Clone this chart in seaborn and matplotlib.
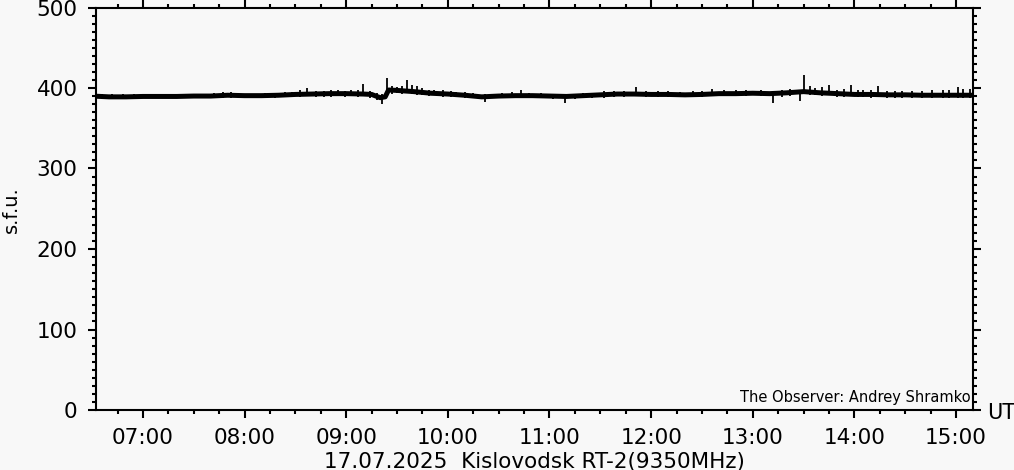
import matplotlib
matplotlib.use("Agg")
import matplotlib.pyplot as plt
import seaborn as sns
import pandas as pd
from matplotlib.ticker import MultipleLocator, FuncFormatter

# flux level (UT, s.f.u.)
times = ["06:30", "06:40", "06:50", "07:00", "07:10", "07:20", "07:30", "07:40",
         "07:50", "08:00", "08:10", "08:20", "08:30", "08:40", "08:50", "09:00",
         "09:10", "09:15", "09:20", "09:23", "09:25", "09:30", "09:40", "09:50",
         "10:00", "10:10", "10:20", "10:30", "10:40", "10:50", "11:00", "11:10",
         "11:20", "11:30", "11:40", "11:50", "12:00", "12:10", "12:20", "12:30",
         "12:40", "12:50", "13:00", "13:10", "13:20", "13:30", "13:40", "13:50",
         "14:00", "14:10", "14:20", "14:30", "14:40", "14:50", "15:00", "15:10",
         "15:20"]
flux = [390, 389, 389, 389.5, 389.5, 389.5, 390, 390,
        391, 390.5, 390.5, 391, 392, 392.5, 393, 393,
        392.5, 392, 388, 389, 397.5, 397, 395.5, 393.5,
        392.5, 391, 389, 390, 390.5, 390.5, 390, 389.5,
        390.5, 391.5, 392.5, 392.5, 392, 392, 391.5, 392,
        393, 393, 393.5, 393, 394, 395.5, 394, 393,
        392, 392, 391.5, 391.5, 391, 391, 391, 391,
        391]

# short bursts / dips seen on the trace: time, low end, high end
spike_times = ["06:36", "06:42", "06:48", "06:55", "07:05", "07:12", "07:20", "07:26",
               "07:34", "07:42", "07:47", "07:52", "08:00", "08:05", "08:12", "08:18",
               "08:24", "08:28", "08:33", "08:37", "08:42", "08:47", "08:51", "08:55",
               "08:59", "09:03", "09:07", "09:10", "09:14", "09:18", "09:21", "09:24",
               "09:27", "09:30", "09:33", "09:36", "09:39", "09:42", "09:45", "09:49",
               "09:52", "09:57", "10:02", "10:05", "10:10", "10:15", "10:22", "10:27",
               "10:32", "10:38", "10:43", "10:48", "10:55", "11:02", "11:09", "11:15",
               "11:20", "11:25", "11:32", "11:38", "11:44", "11:51", "11:57", "12:04",
               "12:10", "12:17", "12:25", "12:30", "12:36", "12:43", "12:50", "12:56",
               "13:05", "13:12", "13:17", "13:22", "13:28", "13:30", "13:34", "13:37",
               "13:41", "13:45", "13:50", "13:54", "13:58", "14:02", "14:05", "14:10",
               "14:14", "14:19", "14:24", "14:28", "14:34", "14:40", "14:46", "14:52",
               "14:56", "15:01", "15:04", "15:08"]
spike_lo = [387, 387, 386, 387, 387, 387, 387, 387,
            388, 388, 388, 388, 388, 388, 388, 388,
            389, 389, 389, 390, 389, 389, 389, 390,
            389, 390, 389, 390, 388, 385, 380.5, 392,
            393, 394, 392, 394, 393, 391, 391, 390,
            391, 389, 389, 389, 388, 387, 382.5, 387,
            387, 387, 388, 387, 387, 386, 381.8, 386,
            387, 387, 388, 389, 389, 390, 389, 389,
            389, 389, 389, 389, 390, 390, 390, 390,
            390, 381.8, 389, 390, 383.5, 392, 391, 391,
            390, 391, 389, 389, 390, 389, 389, 388,
            389, 388, 388, 388, 388, 388, 388, 388,
            388, 388, 387, 387]
spike_hi = [393, 392, 392, 392, 392, 393, 392, 393,
            393, 394, 395, 395, 393, 393, 394, 394,
            395, 395, 397, 400, 396, 396, 397, 397,
            396, 397, 397, 405, 396, 394, 393, 412.4,
            403, 401, 402, 409.5, 404, 402, 400, 398,
            397, 397, 396, 395, 395, 394, 392, 393,
            394, 395, 397, 394, 394, 393, 392, 393,
            394, 394, 396, 396, 396, 401.2, 396, 396,
            396, 395, 396, 396, 399, 397, 397, 397,
            398, 396, 398, 399, 397, 416.5, 402, 400,
            401, 403.3, 398, 399, 403.5, 397, 398, 397,
            402.5, 396, 396, 396, 396, 396, 397, 397,
            398, 401.6, 399, 399]

x_start, x_end = "06:32", "15:10"


def to_hours(s):
    h, m = s.split(":")
    return int(h) + int(m) / 60


df = pd.DataFrame({"t": [to_hours(s) for s in times], "sfu": flux})

bg = "#f8f8f8"
sns.set_theme(style="ticks")
plt.rcParams["font.family"] = ["DejaVu Sans"]
for key in ["text.color", "axes.labelcolor", "xtick.color", "ytick.color"]:
    plt.rcParams[key] = "black"

fig = plt.figure(figsize=(10.14, 4.70), dpi=100, facecolor=bg)
ax = fig.add_axes([95.5 / 1014, 1 - 410 / 470, (973 - 95.5) / 1014, (410 - 7.5) / 470])
ax.set_facecolor(bg)

sns.lineplot(data=df, x="t", y="sfu", ax=ax, color="black", lw=3.6)
ax.vlines([to_hours(s) for s in spike_times], spike_lo, spike_hi, color="black", lw=1.3)

ax.set_xlim(to_hours(x_start), to_hours(x_end))
ax.set_ylim(0, 500)
ax.xaxis.set_major_locator(MultipleLocator(1))
ax.xaxis.set_minor_locator(MultipleLocator(0.25))
ax.xaxis.set_major_formatter(FuncFormatter(lambda v, p: f"{int(round(v)):02d}:00"))
ax.yaxis.set_major_locator(MultipleLocator(100))
ax.yaxis.set_minor_locator(MultipleLocator(10))

for s in ax.spines.values():
    s.set_visible(True)
    s.set_linewidth(1.5)
    s.set_color("black")

ax.tick_params(which="both", direction="out", top=True, right=True,
               labeltop=False, labelright=False, color="black", width=1.5)
ax.tick_params(which="major", length=6, labelsize=15.5, pad=7)
ax.tick_params(which="minor", length=3)

ax.set_xlabel("17.07.2025  Kislovodsk RT-2(9350MHz)", fontsize=15.5, labelpad=3)
ax.set_ylabel("s.f.u.", fontsize=14)
ax.yaxis.set_label_coords((21 - 95.5) / 877.5, (410 - 210) / 402.5)

ax.text(0.997, 0.012, "The Observer: Andrey Shramko", transform=ax.transAxes,
        ha="right", va="bottom", fontsize=10.5)
fig.text(1001 / 1014, 1 - 413 / 470, "UT", ha="center", va="center", fontsize=15)

fig.savefig("out.png", dpi=100, facecolor=bg)
